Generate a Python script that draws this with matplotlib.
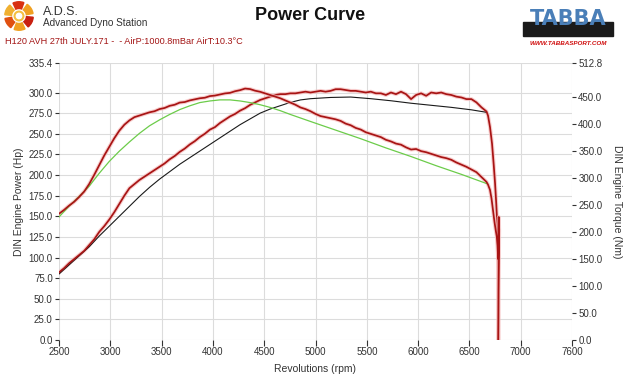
import numpy as np
import matplotlib
matplotlib.use("Agg")
import matplotlib.pyplot as plt
from matplotlib.patches import Wedge, Circle, Rectangle

plt.rcParams["font.family"] = ["Liberation Sans", "DejaVu Sans"]

# measured torque (Nm, right axis)
torque_rpm = [2500, 2550, 2600, 2650, 2700, 2750, 2800, 2850, 2900, 2950, 3000, 3050, 3100, 3150,
              3200, 3250, 3300, 3350, 3400, 3450, 3500, 3550, 3600, 3650, 3700, 3750, 3800, 3850,
              3900, 3950, 4000, 4050, 4100, 4150, 4200, 4250, 4300, 4350, 4400, 4450, 4500, 4550,
              4600, 4650, 4700, 4750, 4800, 4850, 4900, 4950, 5000, 5050, 5100, 5150, 5200, 5250,
              5300, 5350, 5400, 5450, 5500, 5550, 5600, 5650, 5700, 5750, 5800, 5850, 5900, 5950,
              6000, 6050, 6100, 6150, 6200, 6250, 6300, 6350, 6400, 6450, 6500, 6550, 6600, 6650,
              6700, 6750, 6765, 6785, 6800, 6815, 6830, 6842, 6852, 6860, 6866, 6872, 6876, 6874,
              6870, 6868, 6866]
torque_nm = [234, 241, 249, 256, 265, 275, 289, 306, 324, 342, 358, 374, 388, 399,
             407, 413, 416, 419, 422, 424, 428, 430, 434, 436, 440, 441, 444, 446,
             448, 449, 452, 453, 455, 457, 458, 461, 463, 466, 465, 462, 460, 457,
             454, 451, 448, 444, 440, 436, 431, 428, 424, 419, 415, 413, 411, 409,
             406, 401, 398, 393, 390, 385, 382, 379, 376, 371, 368, 364, 362, 357,
             353, 354, 350, 348, 345, 342, 339, 337, 334, 329, 325, 321, 316, 311,
             302, 293, 288, 278, 262, 240, 218, 203, 192, 175, 150, 228, 205, 150,
             90, 40, 0]

# smoothed torque (green)
torque_fit_rpm = [2500, 2600, 2700, 2800, 2900, 3000, 3100, 3200, 3300, 3400, 3500, 3600, 3700,
                  3800, 3900, 4000, 4100, 4200, 4300, 4400, 4500, 4600, 4700, 4800, 5000, 5250,
                  5500, 5750, 6000, 6250, 6500, 6750]
torque_fit_nm = [228, 248, 266, 285, 309, 331, 350, 367, 383, 397, 408, 418, 427,
                 434, 440, 443, 445, 445, 443, 440, 436, 431, 425, 418, 405, 389,
                 373, 356, 340, 323, 307, 290]

# measured power (hp, left axis)
power_rpm = [2500, 2550, 2600, 2650, 2700, 2750, 2800, 2850, 2900, 2950, 3000, 3050, 3100, 3150,
             3200, 3250, 3300, 3350, 3400, 3450, 3500, 3550, 3600, 3650, 3700, 3750, 3800, 3850,
             3900, 3950, 4000, 4050, 4100, 4150, 4200, 4250, 4300, 4350, 4400, 4450, 4500, 4550,
             4600, 4650, 4700, 4750, 4800, 4850, 4900, 4950, 5000, 5050, 5100, 5150, 5200, 5250,
             5300, 5350, 5400, 5450, 5500, 5550, 5600, 5650, 5700, 5750, 5800, 5850, 5900, 5950,
             6000, 6050, 6100, 6150, 6200, 6250, 6300, 6350, 6400, 6450, 6500, 6550, 6600, 6650,
             6700, 6750, 6765, 6785, 6805, 6822, 6835, 6847, 6855, 6861, 6865, 6868, 6870]
power_hp = [82, 87, 93, 98, 103, 108, 115, 122, 131, 138, 146, 155, 165, 175,
            184, 189, 194, 198, 202, 206, 210, 214, 219, 223, 228, 232, 237, 241,
            246, 250, 255, 258, 263, 267, 271, 274, 278, 281, 285, 288, 291, 293,
            295, 297, 298, 298, 299, 299, 300, 301, 300, 301, 302, 301, 302, 304,
            304, 303, 302, 302, 301, 300, 301, 299, 299, 297, 300, 298, 301, 298,
            292, 297, 299, 296, 300, 299, 300, 298, 297, 295, 294, 292, 292, 288,
            282, 277, 272, 258, 238, 212, 190, 165, 145, 120, 85, 40, 0]

# smoothed power (black)
power_fit_rpm = [2500, 2600, 2700, 2800, 2900, 3000, 3100, 3200, 3300, 3400, 3500, 3600, 3700,
                 3800, 3900, 4000, 4100, 4200, 4300, 4400, 4500, 4600, 4700, 4800, 4900, 5000,
                 5200, 5400, 5600, 5800, 6000, 6200, 6400, 6600, 6750]
power_fit_hp = [80, 91, 102, 113, 126, 138, 150, 162, 174, 185, 195, 204, 213,
                221, 229, 237, 245, 253, 261, 268, 275, 280, 284, 288, 291, 292.5,
                294, 294.5, 292.5, 290, 287, 284.5, 282, 279, 276]

x_ticks = np.linspace(2500, 7600, 11)
x_labels = ["2500", "3000", "3500", "4000", "4500", "5000", "5500", "6000", "6500", "7000", "7600"]
hp_ticks = [0, 25, 50, 75, 100, 125, 150, 175, 200, 225, 250, 275, 300, 335.4]
nm_ticks = [0, 50, 100, 150, 200, 250, 300, 350, 400, 450, 512.8]

text_col = "#333333"
grid_col = "#dcdcdc"
red = "#a81414"
halo = "#f5b8b8"

fig = plt.figure(figsize=(6.4, 3.83), dpi=100)
ax = fig.add_axes([59 / 640, 1 - 340 / 383, 513 / 640, 276.7 / 383])
ax2 = ax.twinx()

ax.set_xlim(2500, 7600)
ax.set_ylim(0, 335.4)
ax2.set_ylim(0, 512.8)

ax.set_xticks(x_ticks)
ax.set_xticklabels(x_labels)
ax.set_yticks(hp_ticks)
ax.set_yticklabels([f"{v:.1f}" for v in hp_ticks])
ax2.set_yticks(nm_ticks)
ax2.set_yticklabels([f"{v:.1f}" for v in nm_ticks])

for a in (ax, ax2):
    for s in a.spines.values():
        s.set_visible(False)
    a.tick_params(labelsize=7, colors=text_col, length=3, width=0.8, pad=1.5)
ax.tick_params(axis="x", length=4, pad=1)

ax.grid(True, color=grid_col, linewidth=0.8)
ax.set_axisbelow(True)

ax.plot(power_fit_rpm, power_fit_hp, color="#1a1a1a", lw=0.8, zorder=2)
ax2.plot(torque_fit_rpm, torque_fit_nm, color="#6ccc4a", lw=0.9, zorder=2)
ax.plot(power_rpm, power_hp, color=halo, lw=2.8, alpha=0.7, zorder=1)
ax.plot(power_rpm, power_hp, color=red, lw=1.25, zorder=3)
ax2.plot(torque_rpm, torque_nm, color=halo, lw=2.8, alpha=0.7, zorder=1)
ax2.plot(torque_rpm, torque_nm, color=red, lw=1.25, zorder=3)

ax.set_xlabel("Revolutions (rpm)", fontsize=7.5, color=text_col, labelpad=5)
ax.set_ylabel("DIN Engine Power (Hp)", fontsize=7.5, color=text_col, labelpad=3)
ax2.set_ylabel("DIN Engine Torque (Nm)", fontsize=7.5, color=text_col, rotation=-90, labelpad=14)

# header texts
fig.text(310 / 640, 1 - 16 / 383, "Power Curve", fontsize=13, fontweight="bold",
         ha="center", va="center", color="#111111")
fig.text(43 / 640, 1 - 12 / 383, "A.D.S.", fontsize=9, ha="left", va="center", color=text_col)
fig.text(43 / 640, 1 - 23 / 383, "Advanced Dyno Station", fontsize=7.2, ha="left", va="center",
         color=text_col)
fig.text(5 / 640, 1 - 41 / 383, "H120 AVH 27th JULY.171 -  - AirP:1000.8mBar AirT:10.3°C",
         fontsize=6.6, ha="left", va="center", color="#a31515")

# A.D.S. swirl logo
lax = fig.add_axes([4 / 640, 1 - 31 / 383, 30 / 640, 30 / 383])
lax.set_xlim(-1, 1)
lax.set_ylim(-1, 1)
lax.set_aspect("equal")
lax.axis("off")
for i, c in enumerate(["#f0a020", "#d83010", "#f0b030", "#e05010", "#f0a020", "#c82010"]):
    lax.add_patch(Wedge((0, 0), 0.95, i * 60 + 10, i * 60 + 55, width=0.45, color=c))
lax.add_patch(Circle((0, 0), 0.32, color="#f4c040"))
lax.add_patch(Circle((0, 0), 0.18, color="white"))

# TABBA logo
rax = fig.add_axes([512 / 640, 1 - 50 / 383, 112 / 640, 46 / 383])
rax.set_xlim(0, 1)
rax.set_ylim(0, 1)
rax.axis("off")
rax.add_patch(Rectangle((0.1, 0.3), 0.8, 0.3, color="#1a1a1a"))
rax.text(0.5, 0.68, "TABBA", fontsize=15, fontweight="bold", color="#4a7fb8",
         ha="center", va="center", family="DejaVu Sans")
rax.text(0.5, 0.14, "WWW.TABBASPORT.COM", fontsize=4.5, fontweight="bold", style="italic",
         color="#d01010", ha="center", va="center")

fig.savefig("out.png", dpi=100)
